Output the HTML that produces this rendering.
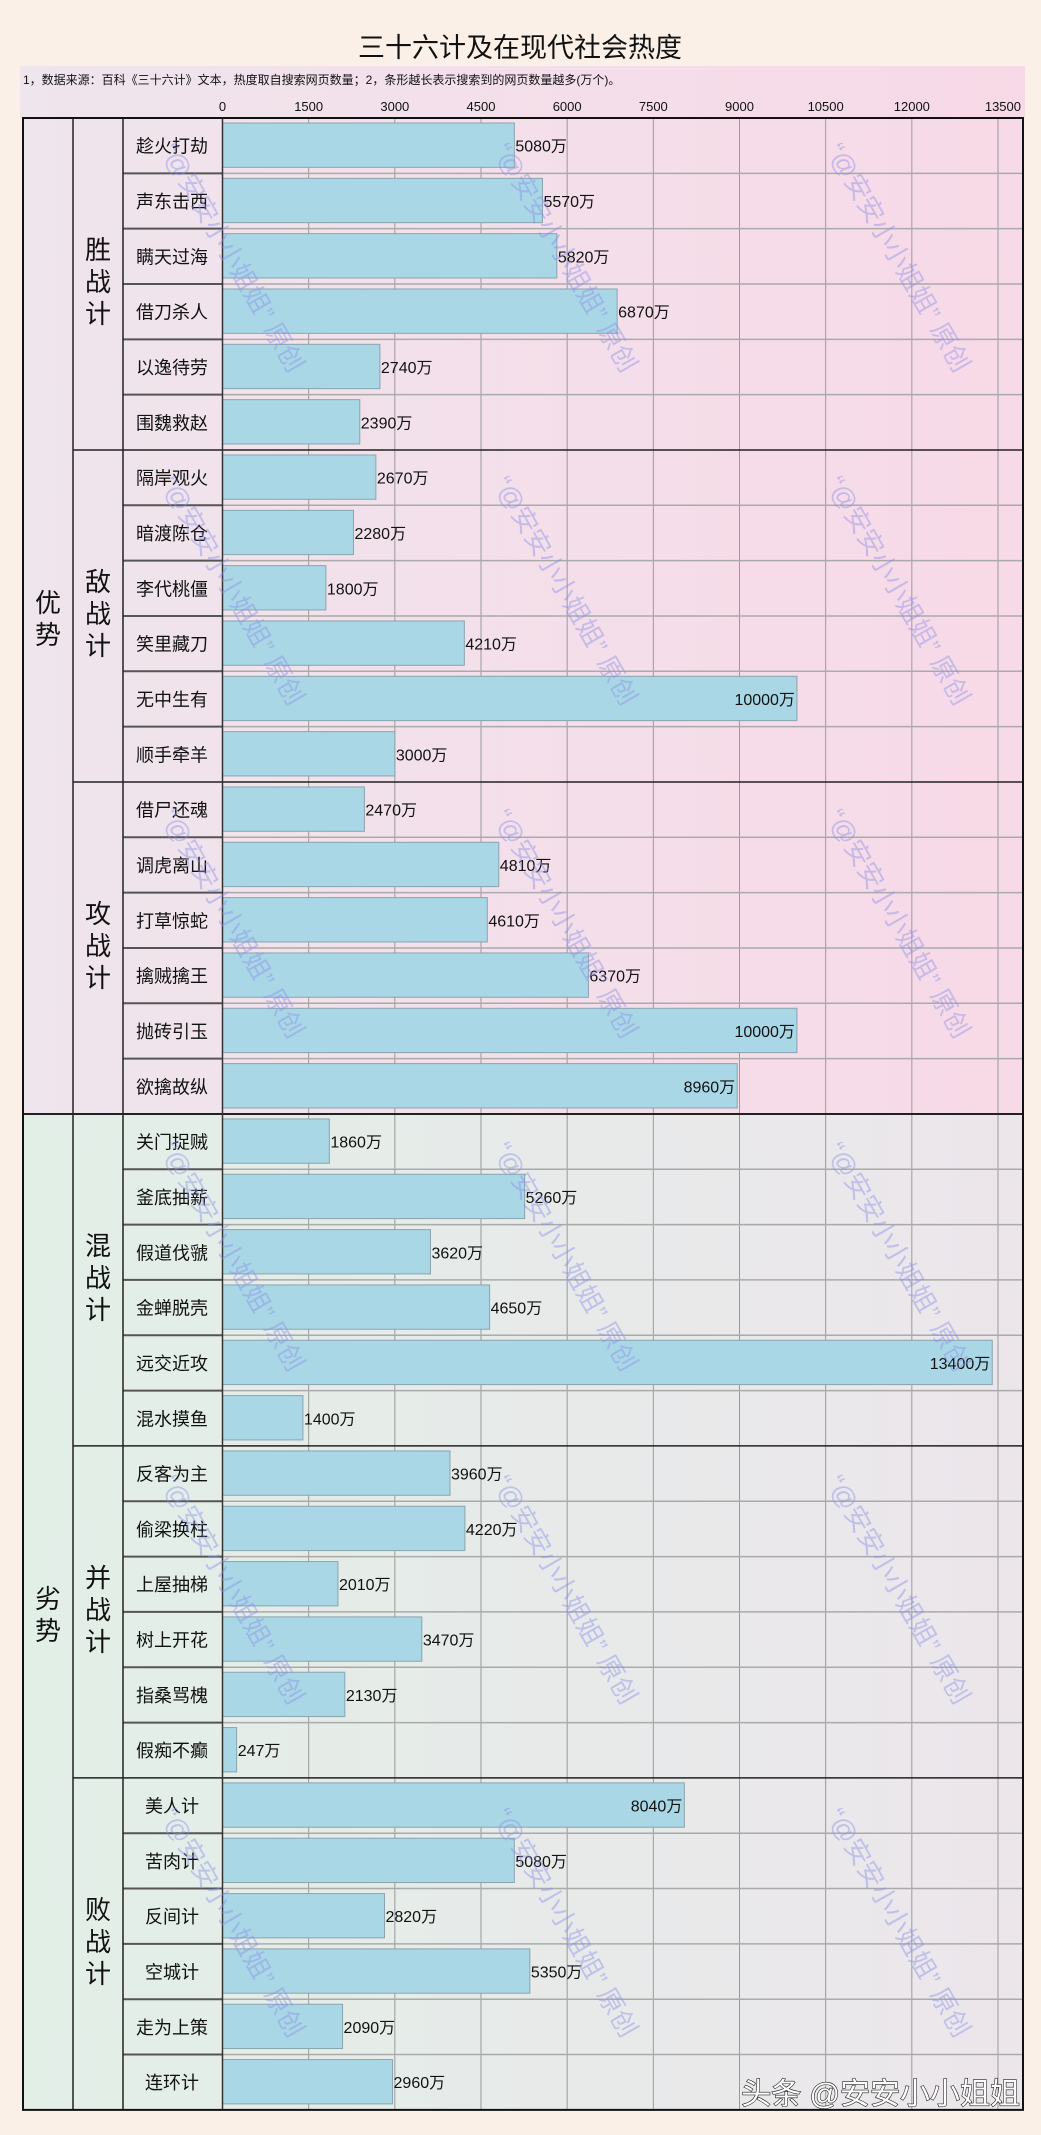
<!DOCTYPE html>
<html><head><meta charset="utf-8"><style>
html,body{margin:0;padding:0;background:#faf0e7;}
svg{display:block;font-family:"Liberation Sans","Noto Sans CJK SC",sans-serif;}
</style></head><body>
<svg id="c" width="1041" height="2135" viewBox="0 0 1041 2135" xmlns="http://www.w3.org/2000/svg">
<defs>
<linearGradient id="gTop" x1="0" x2="1" y1="0" y2="0"><stop offset="0" stop-color="#efe5ec"/><stop offset="1" stop-color="#f8d9e7"/></linearGradient>
<linearGradient id="gBot" x1="0" x2="1" y1="0" y2="0"><stop offset="0" stop-color="#e2efe7"/><stop offset="1" stop-color="#ece6eb"/></linearGradient>
</defs>
<text x="520" y="57" text-anchor="middle" font-size="27" fill="#111">三十六计及在现代社会热度</text>
<rect x="20" y="66" width="1005" height="52" fill="url(#gTop)"/>
<text x="23" y="84" font-size="12" fill="#111">1，数据来源：百科《三十六计》文本，热度取自搜索网页数量；2，条形越长表示搜索到的网页数量越多(万个)。</text>
<g id="plot"></g>
</svg>
<script>
const groups = ["胜战计","敌战计","攻战计","混战计","并战计","败战计"];
const sides = ["优势","劣势"];
const names = ["趁火打劫","声东击西","瞒天过海","借刀杀人","以逸待劳","围魏救赵",
"隔岸观火","暗渡陈仓","李代桃僵","笑里藏刀","无中生有","顺手牵羊",
"借尸还魂","调虎离山","打草惊蛇","擒贼擒王","抛砖引玉","欲擒故纵",
"关门捉贼","釜底抽薪","假道伐虢","金蝉脱壳","远交近攻","混水摸鱼",
"反客为主","偷梁换柱","上屋抽梯","树上开花","指桑骂槐","假痴不癫",
"美人计","苦肉计","反间计","空城计","走为上策","连环计"];
const values = [5080,5570,5820,6870,2740,2390,
2670,2280,1800,4210,10000,3000,
2470,4810,4610,6370,10000,8960,
1860,5260,3620,4650,13400,1400,
3960,4220,2010,3470,2130,247,
8040,5080,2820,5350,2090,2960];
const ticks = [0,1500,3000,4500,6000,7500,9000,10500,12000,13500];

const NS="http://www.w3.org/2000/svg";
const g=document.getElementById('plot');
const X0=222.5, X1=998, L=23, R=1023, TOP=118, RH=55.33;
const x=v=>X0+v*(X1-X0)/13500;
const y=i=>TOP+i*RH;
function el(t,a,p){const e=document.createElementNS(NS,t);for(const k in a)e.setAttribute(k,a[k]);(p||g).appendChild(e);return e;}
const n=names.length, BOT=y(n);
// backgrounds
const bgT=el('rect',{x:L,y:TOP,width:R-L,height:y(18)-TOP,fill:'url(#gTop)'});


const bgB=el('rect',{x:L,y:y(18),width:R-L,height:BOT-y(18),fill:'url(#gBot)'});


// grid + ticks
ticks.forEach(t=>{
  const gl=el('line',{x1:x(t),x2:x(t),y1:TOP,y2:BOT,stroke:'#9a9a9a','stroke-width':1});
  
  
  const tl=el('text',{x:x(t),y:111,'text-anchor':t==13500?'end':'middle','font-size':13,fill:'#111'});
  if(t==13500)tl.setAttribute('x',R-2);
  tl.textContent=t;
  
  
});
// rows
for(let i=0;i<n;i++){
  if(i>0&&i%6){
    const s=el('line',{x1:123,x2:X0,y1:y(i),y2:y(i),stroke:'#555','stroke-width':2});
    
    
    const s2=el('line',{x1:X0,x2:R,y1:y(i),y2:y(i),stroke:'#aaa','stroke-width':1.5});
    
    
  }
  const b=el('rect',{x:X0,y:y(i)+5,width:x(values[i])-X0,height:RH-11,fill:'#a9d7e5',stroke:'#8aa4ae','stroke-width':1});
  
  
  const lb=el('text',{x:172,y:y(i)+RH/2+7,'text-anchor':'middle','font-size':18,fill:'#111'});
  lb.textContent=names[i];
  
  
  const inside=values[i]>=8000;
  const vl=el('text',{x:inside?x(values[i])-2:x(values[i])+1,y:y(i)+RH/2+6,'text-anchor':inside?'end':'start','font-size':16,fill:'#111'});
  vl.textContent=values[i]+'万';
  
  
}
// groups
groups.forEach((gn,k)=>{
  const cy=(y(k*6)+y(k*6+6))/2;
  const t=el('text',{x:98,'text-anchor':'middle','font-size':26,fill:'#111'});
  [...gn].forEach((ch,j)=>{const ts=el('tspan',{x:98,y:cy-25+j*32},t);ts.textContent=ch;});
  
  
  if(k>0){
    const s=el('line',{x1:k%3?73:L,x2:R,y1:y(k*6),y2:y(k*6),stroke:'#222','stroke-width':k%3?1.5:2});
    
    
  }
});
sides.forEach((sn,k)=>{
  const cy=(y(k*18)+y(k*18+18))/2;
  const t=el('text',{x:48,'text-anchor':'middle','font-size':26,fill:'#111'});
  [...sn].forEach((ch,j)=>{const ts=el('tspan',{x:48,y:cy-4+j*32},t);ts.textContent=ch;});
  
  
});
[L,73,123].forEach(cx=>{const v=el('line',{x1:cx,x2:cx,y1:TOP,y2:BOT,stroke:'#222','stroke-width':1.5});

});
const ax=el('line',{x1:X0,x2:X0,y1:TOP,y2:BOT,stroke:'#333','stroke-width':1.5});


const fr=el('rect',{x:L,y:TOP,width:R-L,height:BOT-TOP,fill:'none',stroke:'#111','stroke-width':2});


// watermarks
for(let r=0;r<6;r++)for(let c=0;c<3;c++){
  const wx=160+c*333, wy=150+r*333;
  const w=el('text',{x:wx,y:wy,'font-size':26,fill:'#8c90e8','fill-opacity':0.45,transform:`rotate(60 ${wx} ${wy})`});
  w.textContent='“@安安小小姐姐” 原创';
  
  
}
const wm=el('text',{x:1020,y:2104,'text-anchor':'end','font-size':30,fill:'#fff',stroke:'#222','stroke-width':1.2,'paint-order':'stroke'});
wm.textContent='头条 @安安小小姐姐';


</script>
</body></html>
